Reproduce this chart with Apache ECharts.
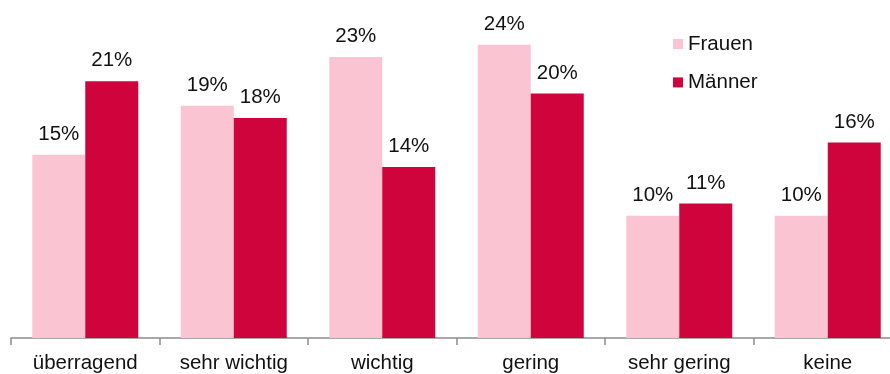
<!DOCTYPE html>
<html>
<head>
<meta charset="utf-8">
<script src="https://cdn.jsdelivr.net/npm/echarts@6/dist/echarts.min.js"></script>
<style>
  html, body { margin: 0; padding: 0; background: #fff; overflow: hidden; }
  #frame { width: 890px; height: 374px; overflow: hidden; position: relative; }
  /* the plot runs past the right edge, so the canvas is wider than the frame */
  #chart { width: 910px; height: 374px; position: absolute; left: 0; top: 0; }
</style>
</head>
<body>
<div id="frame"><div id="chart"></div></div>
<script>
// Anteil der Antworten nach Geschlecht (in Prozent)
const categories = ['überragend', 'sehr wichtig', 'wichtig', 'gering', 'sehr gering', 'keine'];
const frauen = [15, 19, 23, 24, 10, 10];
const maenner = [21, 18, 14, 20, 11, 16];

const FONT = '"Liberation Sans", Arial, Helvetica, sans-serif';
const TEXT = '#111111';

const chart = echarts.init(document.getElementById('chart'), null, { renderer: 'canvas' });

const valueLabel = {
  show: true,
  position: 'top',
  distance: 10,
  color: TEXT,
  fontFamily: FONT,
  fontSize: 20.5,
  formatter: p => p.value + '%'
};

chart.setOption({
  animation: false,
  backgroundColor: '#ffffff',
  textStyle: { fontFamily: FONT },
  grid: { left: 11, top: 8, width: 891, height: 332 },
  legend: {
    orient: 'vertical',
    left: 673,
    top: 33,
    padding: 0,
    itemWidth: 10,
    itemHeight: 10,
    itemGap: 16.4,
    icon: 'rect',
    textStyle: { color: TEXT, fontFamily: FONT, fontSize: 20.5, lineHeight: 22 },
    data: ['Frauen', 'Männer']
  },
  xAxis: {
    type: 'category',
    data: categories,
    axisLine: { lineStyle: { color: '#8c8c8c', width: 1.5 } },
    axisTick: { show: true, length: 7, lineStyle: { color: '#8c8c8c', width: 1.5 } },
    axisLabel: { color: TEXT, fontFamily: FONT, fontSize: 20.5, margin: 15, interval: 0 }
  },
  yAxis: {
    type: 'value',
    min: 0,
    max: 27,
    show: false,
    splitLine: { show: false }
  },
  series: [
    {
      name: 'Frauen',
      type: 'bar',
      data: frauen,
      barWidth: 53,
      barGap: '0%',
      itemStyle: { color: '#fbc4d3' },
      label: valueLabel
    },
    {
      name: 'Männer',
      type: 'bar',
      data: maenner,
      barWidth: 53,
      barGap: '0%',
      itemStyle: { color: '#cf043c' },
      label: valueLabel
    }
  ]
});
</script>
</body>
</html>
